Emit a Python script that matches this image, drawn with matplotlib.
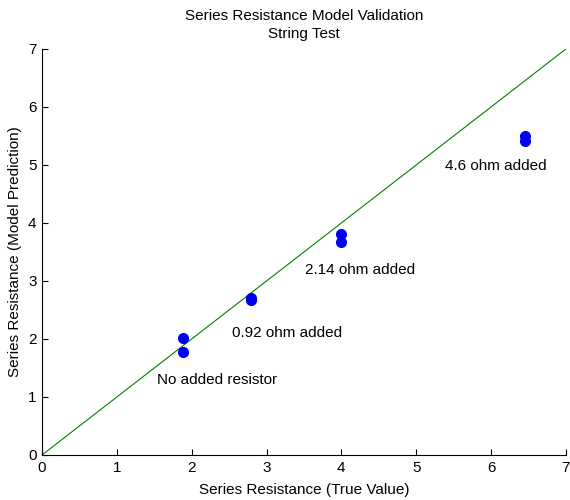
import matplotlib.pyplot as plt

plt.rcParams['font.family'] = ['Liberation Sans', 'DejaVu Sans']

# series resistance: true value vs model prediction (ohm)
true_vals = [1.88, 1.88, 2.79, 2.79, 4.00, 4.00, 6.45, 6.45]
pred_vals = [2.02, 1.78, 2.67, 2.70, 3.81, 3.67, 5.50, 5.42]

labels = ["No added resistor", "0.92 ohm added", "2.14 ohm added", "4.6 ohm added"]
label_x = [1.54, 2.54, 3.51, 5.39]
label_y = [1.29, 2.10, 3.19, 4.98]

ref_line = [0, 7]

fig = plt.figure(figsize=(5.7, 5.0), dpi=100)
ax = fig.add_axes([0.0737, 0.09, 0.919, 0.812])

ax.plot(ref_line, ref_line, color="#008000", linewidth=0.8)
ax.plot(true_vals, pred_vals, "o", color="#0000ee", markersize=7, markeredgecolor="#0000ee")

for txt, lx, ly in zip(labels, label_x, label_y):
    ax.text(lx, ly, txt, fontsize=11, ha="left", va="center")

ax.set_xlim(0, 7)
ax.set_ylim(0, 7)
ax.set_xticks(range(8))
ax.set_yticks(range(8))
ax.spines["top"].set_visible(False)
ax.spines["right"].set_visible(False)
ax.tick_params(direction="in", length=4, labelsize=11, pad=4)
ax.set_xlabel("Series Resistance (True Value)", fontsize=11, labelpad=6)
ax.set_ylabel("Series Resistance (Model Prediction)", fontsize=11, labelpad=4)
ax.set_title("Series Resistance Model Validation\nString Test", fontsize=11, pad=8,
             linespacing=1.35)

fig.savefig("out.png", dpi=100)
